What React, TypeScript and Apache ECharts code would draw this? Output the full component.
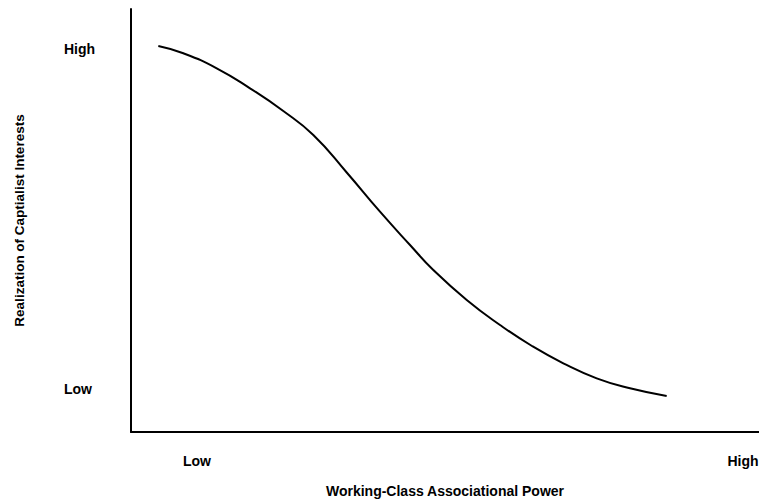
import React, { useEffect, useRef } from "react";
import * as echarts from "echarts";

// Curve (x: associational power 0-100, y: realization 0-100)
const curveX = [4.35, 8.33, 13.65, 18.95, 24.25, 29.03, 34.35, 39.65, 44.43, 48.14, 53.46, 58.76, 63.85, 68.84, 74.16, 79.46, 85.3];
const curveY = [91.25, 89.53, 85.98, 81.25, 75.89, 70.21, 61.35, 52.08, 44.21, 38.3, 31.21, 25.3, 20.33, 16.24, 12.69, 10.33, 8.51];

const xTickValues = [10.51, 97.45];
const xTickLabels = ["Low", "High"];
const yTickValues = [10.24, 90.59];
const yTickLabels = ["Low", "High"];

const xTitle = "Working-Class Associational Power";
const yTitle = "Realization of Captialist Interests";

export default function App() {
  const ref = useRef<HTMLDivElement>(null);
  useEffect(() => {
    if (!ref.current) return;
    const chart = echarts.init(ref.current, undefined, { renderer: "svg" });
    const font = "'Liberation Sans', Arial, Helvetica, sans-serif";
    const data = curveX.map((x, i) => [x, curveY[i]]);
    chart.setOption({
      animation: false,
      backgroundColor: "#ffffff",
      grid: { left: 131, right: 0, top: 9, bottom: 67, containLabel: false, outerBoundsMode: "none" },
      xAxis: {
        type: "value",
        min: 0,
        max: 100,
        splitLine: { show: false },
        axisTick: { show: false },
        axisLine: { show: true, onZero: false, lineStyle: { color: "#000", width: 2 } },
        axisLabel: {
          customValues: xTickValues,
          formatter: (v: number) => xTickLabels[xTickValues.indexOf(v)] ?? "",
          color: "#000",
          fontFamily: font,
          fontWeight: "bold",
          fontSize: 14,
          margin: 22,
          showMinLabel: true,
          showMaxLabel: true,
        },
        name: xTitle,
        nameLocation: "middle",
        nameGap: 52,
        nameTextStyle: { color: "#000", fontFamily: font, fontWeight: "bold", fontSize: 14 },
      },
      yAxis: {
        type: "value",
        min: 0,
        max: 100,
        splitLine: { show: false },
        axisTick: { show: false },
        axisLine: { show: true, onZero: false, lineStyle: { color: "#000", width: 2 } },
        axisLabel: {
          customValues: yTickValues,
          formatter: (v: number) => yTickLabels[yTickValues.indexOf(v)] ?? "",
          color: "#000",
          fontFamily: font,
          fontWeight: "bold",
          fontSize: 14,
          align: "left",
          margin: 67,
        },
        name: yTitle,
        nameLocation: "middle",
        nameGap: 105,
        nameTextStyle: { color: "#000", fontFamily: font, fontWeight: "bold", fontSize: 13.5 },
      },
      series: [
        {
          type: "line",
          data,
          smooth: 0.5,
          showSymbol: false,
          symbol: "none",
          lineStyle: { color: "#000", width: 2 },
        },
      ],
    });
    return () => chart.dispose();
  }, []);
  return (
    <div
      ref={ref}
      style={{ position: "fixed", left: 0, top: 0, width: 759, height: 499, background: "#fff" }}
    />
  );
}
